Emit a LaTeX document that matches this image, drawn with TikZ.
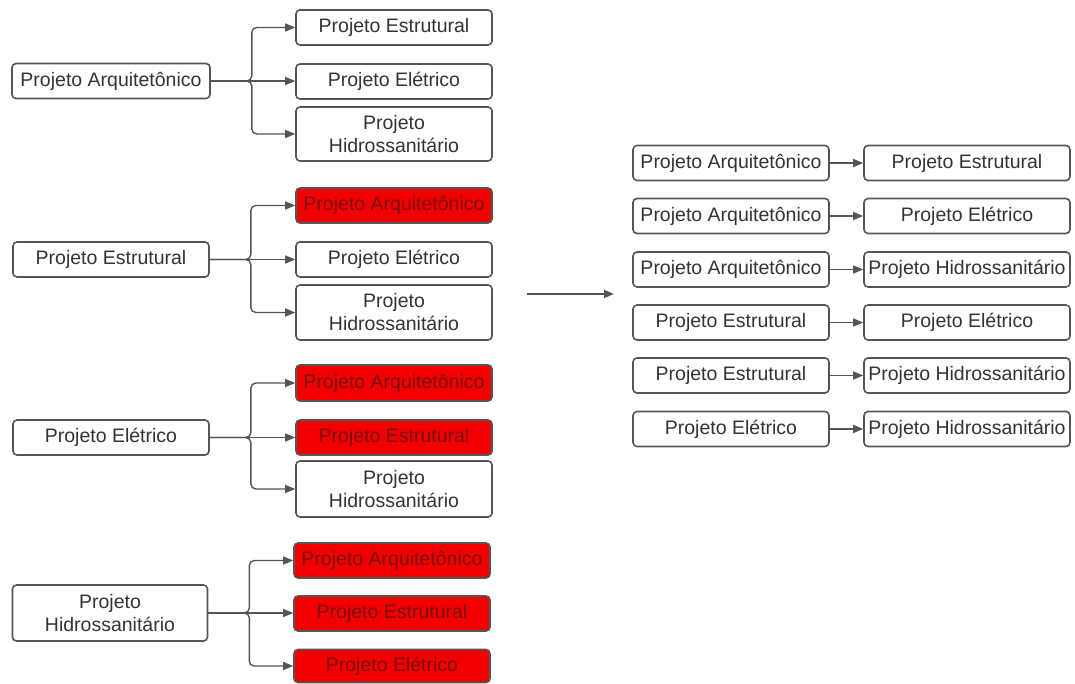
\documentclass[tikz,border=0pt]{standalone}
\usepackage{fontspec}
\setmainfont{Liberation Sans}
\usetikzlibrary{arrows.meta,positioning,calc}
\definecolor{mLine}{HTML}{555555}
\definecolor{mText}{HTML}{333333}
\definecolor{mRed}{HTML}{F20000}
\definecolor{mRedText}{HTML}{7A0A0A}

\begin{document}
\begin{tikzpicture}[x=1pt,y=-1pt,>={Triangle[length=10pt,width=8pt]},
    box/.style={draw=mLine,line width=1.6pt,rounded corners=4pt,fill=white,text=mText,
      align=center,inner sep=1pt,minimum height=35pt,
      font=\fontsize{19.5}{23}\selectfont},
    redbox/.style={box,fill=mRed,text=mRedText},
    link/.style={->,draw=mLine,line width=1.4pt,rounded corners=5pt}]
  \useasboundingbox (0,0) rectangle (1075,684);

  % primeiro grupo
  \node[box,minimum width=198pt] (arq) at (111,81) {Projeto Arquitetônico};
  \node[box,minimum width=196pt] (arqA) at (394,27.5) {Projeto Estrutural};
  \node[box,minimum width=196pt] (arqB) at (394,81.5) {Projeto Elétrico};
  \node[box,minimum width=196pt,minimum height=54pt] (arqC) at (394,134) {Projeto\\Hidrossanitário};

  % segundo grupo
  \node[box,minimum width=196pt] (est) at (111,259.5) {Projeto Estrutural};
  \node[redbox,minimum width=196pt] (estA) at (394,205.5) {Projeto Arquitetônico};
  \node[box,minimum width=196pt] (estB) at (394,259.5) {Projeto Elétrico};
  \node[box,minimum width=196pt,minimum height=55pt] (estC) at (394,312.5) {Projeto\\Hidrossanitário};

  % terceiro grupo
  \node[box,minimum width=196pt] (ele) at (111,437.5) {Projeto Elétrico};
  \node[redbox,minimum width=196pt,minimum height=36pt] (eleA) at (394,383) {Projeto Arquitetônico};
  \node[redbox,minimum width=196pt] (eleB) at (394,437.5) {Projeto Estrutural};
  \node[box,minimum width=196pt,minimum height=56pt] (eleC) at (394,489) {Projeto\\Hidrossanitário};

  % quarto grupo
  \node[box,minimum width=195pt,minimum height=56pt] (hid) at (110,613) {Projeto\\Hidrossanitário};
  \node[redbox,minimum width=196pt] (hidA) at (392,560.5) {Projeto Arquitetônico};
  \node[redbox,minimum width=196pt] (hidB) at (392,613.5) {Projeto Estrutural};
  \node[redbox,minimum width=196pt,minimum height=33pt] (hidC) at (392,666) {Projeto Elétrico};

  \foreach \s in {arq,est,ele,hid} {
    \draw[link] (\s.east) -- ++(41,0) |- (\s A.west);
    \draw[link] (\s.east) -- (\s.east -| \s B.west);
    \draw[link] (\s.east) -- ++(41,0) |- (\s C.west);
  }

  \coordinate (m1) at (527,294);
  \coordinate (m2) at (614,294);
  \draw[link] (m1) -- (m2);

  % pares resultantes
  \foreach \a/\b/\y [count=\i] in {Projeto Arquitetônico/Projeto Estrutural/163,
      Projeto Arquitetônico/Projeto Elétrico/216,
      Projeto Arquitetônico/Projeto Hidrossanitário/269.5,
      Projeto Estrutural/Projeto Elétrico/322.5,
      Projeto Estrutural/Projeto Hidrossanitário/375.5,
      Projeto Elétrico/Projeto Hidrossanitário/429} {
    \node[box,minimum width=196pt] (par\i) at (731,\y) {\a};
    \node[box,minimum width=206pt] (dep\i) at (967,\y) {\b};
    \draw[link] (par\i) -- (dep\i);
  }
\end{tikzpicture}
\end{document}
